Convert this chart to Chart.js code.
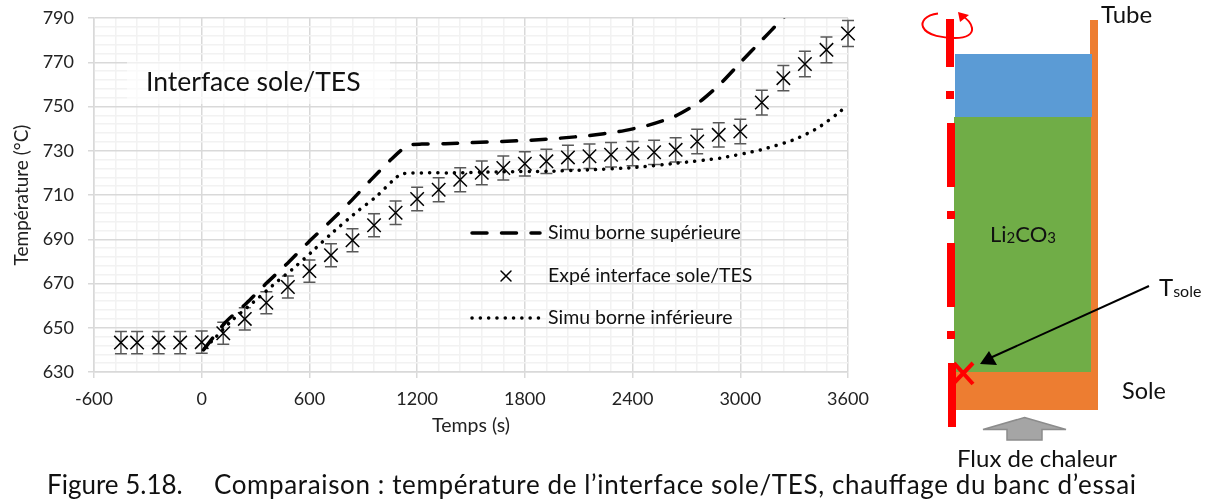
<!DOCTYPE html>
<html>
<head>
<meta charset="utf-8">
<title>Interface sole/TES</title>
<script src="https://cdn.jsdelivr.net/npm/chart.js@4"></script>
<style>
html, body { margin: 0; padding: 0; background: #fff; overflow: hidden; }
#chart { position: absolute; left: 0; top: 0; }
#schema { position: absolute; left: 0; top: 0; }
#schema text { font-family: Lato, sans-serif; fill: #111; }
</style>
</head>
<body>
<canvas id="chart" width="890" height="445"></canvas>
<svg id="schema" width="1213" height="504" viewBox="0 0 1213 504">
  <!-- schema du banc -->
  <rect x="1090" y="20" width="8" height="390" fill="#ed7d31"/>
  <rect x="954" y="371" width="144" height="39" fill="#ed7d31"/>
  <rect x="955" y="54" width="137" height="63" fill="#5b9bd5"/>
  <rect x="954" y="117" width="137" height="255" fill="#70ad47"/>
  <g fill="#ff0000">
    <rect x="946" y="19" width="8" height="48"/>
    <rect x="946" y="91" width="8" height="8"/>
    <rect x="947" y="123" width="8" height="64"/>
    <rect x="947" y="211" width="8" height="8"/>
    <rect x="947" y="243" width="8" height="64"/>
    <rect x="947" y="331" width="8" height="8"/>
    <rect x="948" y="363" width="8" height="64"/>
  </g>
  <path d="M938 13.5 C925 15 921 22 923 27 C927 36 944 38 955 38 C967 38 973 34 972 28 C971 22 966 18 961 15" fill="none" stroke="#ff0000" stroke-width="2"/>
  <polygon points="958,12 969,15 960,22" fill="#ff0000"/>
  <path d="M954 363 L973 384 M973 363 L953 384" stroke="#ff0000" stroke-width="4" fill="none"/>
  <line x1="1149" y1="286" x2="990" y2="358" stroke="#000" stroke-width="2"/>
  <polygon points="980,364 997,365 989,351" fill="#000"/>
  <polygon points="1024.5,417.5 1066,429.5 1042,429.5 1042,440 1007,440 1007,429.5 983,429.5" fill="#a5a5a5" stroke="#8c8c8c" stroke-width="1.5"/>
  <text x="1101" y="23" font-size="24">Tube</text>
  <text x="990" y="242" font-size="22">Li<tspan font-size="15" dy="1">2</tspan><tspan dy="-1">CO</tspan><tspan font-size="15" dy="1">3</tspan></text>
  <text x="1159" y="296" font-size="24">T<tspan font-size="16" dy="1">sole</tspan></text>
  <text x="1122" y="399" font-size="23.5">Sole</text>
  <text x="957" y="467" font-size="24">Flux de chaleur</text>
  <text x="47" y="494" font-size="26">Figure 5.18.</text>
  <text x="214" y="494" font-size="26" textLength="922">Comparaison : température de l’interface sole/TES, chauffage du banc d’essai</text>
</svg>
<script>
// temps (s) / temperature (°C)
const expeTemps = [-450, -360, -240, -120, 0, 120, 240, 360, 480, 600, 720, 840, 960, 1080, 1200, 1320, 1440, 1560, 1680, 1800, 1920, 2040, 2160, 2280, 2400, 2520, 2640, 2760, 2880, 3000, 3120, 3240, 3360, 3480, 3600];
const expeValeurs = [643.3, 643.3, 643.3, 643.3, 643.5, 647.5, 654, 661.3, 668.4, 675.6, 682.8, 689.5, 696.3, 702, 708.2, 712.4, 716.9, 720, 722.2, 724.1, 725.2, 727, 727.5, 728.2, 728.7, 729.3, 730.4, 734.2, 737.2, 738.7, 751.8, 762.8, 769.2, 775.6, 783];
const expeErreurs = [5, 5, 5, 5, 5, 5, 5, 5, 5, 5, 5.2, 5.2, 5.2, 5.3, 5.3, 5.4, 5.4, 5.4, 5.4, 5.5, 5.5, 5.5, 5.5, 5.5, 5.5, 5.5, 5.5, 5.5, 5.5, 5.5, 5.6, 5.7, 5.8, 5.8, 5.9];

const hautTemps = [10, 131, 252, 363, 484, 596, 716, 828, 940, 1054, 1146, 1226, 1357, 1514, 1674, 1836, 1998, 2160, 2320, 2478, 2634, 2773, 2896, 3006, 3118, 3225, 3250];
const hautValeurs = [640, 652.4, 661.3, 670.3, 679.6, 688.8, 698, 707, 716.6, 726, 732.4, 733, 733.2, 733.7, 734.2, 734.8, 735.7, 736.9, 738.6, 741.3, 745.5, 752.1, 760.8, 770.3, 779.8, 788.8, 791];

const basTemps = [20, 75, 168, 280, 428, 503, 609, 716, 861, 974, 1069, 1116, 1255, 1403, 1681, 1925, 2166, 2406, 2648, 2890, 3113, 3299, 3430, 3541, 3584];
const basValeurs = [641, 645.5, 653.3, 661, 671.4, 676.3, 684, 692.1, 702.2, 709.4, 716.9, 719.6, 720, 720, 720.5, 720.7, 721.4, 722.4, 724.4, 726.7, 730.4, 735, 740.2, 746.7, 749.7];

const xTickLabels = [-600, 0, 600, 1200, 1800, 2400, 3000, 3600];
const yTickLabels = [630, 650, 670, 690, 710, 730, 750, 770, 790];

const police = "Lato, sans-serif";
const couleurGrille = "#d9d9d9";
const couleurGrilleFine = "#f2f2f2";

function toPoints(xs, ys) {
    return xs.map((x, i) => ({ x: x, y: ys[i] }));
}

// barres d'erreur de la serie experimentale
const errorBars = {
    id: "errorBars",
    beforeDatasetsDraw(chart) {
        const { ctx, scales } = chart;
        ctx.save();
        ctx.strokeStyle = "#595959";
        ctx.lineWidth = 1.5;
        expeTemps.forEach((t, i) => {
            const px = scales.x.getPixelForValue(t);
            const hi = scales.y.getPixelForValue(expeValeurs[i] + expeErreurs[i]);
            const lo = scales.y.getPixelForValue(expeValeurs[i] - expeErreurs[i]);
            ctx.beginPath();
            ctx.moveTo(px, hi); ctx.lineTo(px, lo);
            ctx.moveTo(px - 6, hi); ctx.lineTo(px + 6, hi);
            ctx.moveTo(px - 6, lo); ctx.lineTo(px + 6, lo);
            ctx.stroke();
        });
        ctx.restore();
    }
};

// voile du titre + legende placee dans le trace
const encarts = {
    id: "encarts",
    beforeDatasetsDraw(chart) {
        const ctx = chart.ctx;
        ctx.save();
        ctx.fillStyle = "rgba(255,255,255,0.6)";
        ctx.fillRect(127, 61, 263, 43);
        ctx.restore();
    },
    afterDraw(chart) {
        const ctx = chart.ctx;
        ctx.save();
        ctx.fillStyle = "#111";
        ctx.textBaseline = "middle";
        ctx.font = "26.5px " + police;
        ctx.fillText("Interface sole/TES", 146, 82);
        ctx.font = "19.5px " + police;
        const lignes = [233, 276, 318];
        chart.data.datasets.forEach((ds, i) => {
            const y = lignes[i];
            ctx.fillStyle = "#111";
            ctx.fillText(ds.label, 548, y);
            if (ds.showLine) {
                ctx.strokeStyle = "#000";
                ctx.lineWidth = ds.borderWidth;
                ctx.lineCap = "round";
                ctx.setLineDash(ds.borderDash);
                ctx.beginPath();
                ctx.moveTo(472, y);
                ctx.lineTo(540, y);
                ctx.stroke();
                ctx.setLineDash([]);
            } else {
                ctx.strokeStyle = "#000";
                ctx.lineWidth = 1.5;
                ctx.beginPath();
                ctx.moveTo(501, y - 5); ctx.lineTo(511, y + 5);
                ctx.moveTo(511, y - 5); ctx.lineTo(501, y + 5);
                ctx.stroke();
            }
        });
        ctx.restore();
    }
};

new Chart(document.getElementById("chart"), {
    type: "scatter",
    plugins: [encarts, errorBars],
    data: {
        datasets: [
            {
                label: "Simu borne supérieure",
                data: toPoints(hautTemps, hautValeurs),
                showLine: true,
                borderColor: "#000",
                borderWidth: 3.5,
                borderDash: [15, 14.5],
                borderCapStyle: "round",
                pointRadius: 0,
                tension: 0.2
            },
            {
                label: "Expé interface sole/TES",
                data: toPoints(expeTemps, expeValeurs),
                showLine: false,
                clip: false,
                pointStyle: "crossRot",
                pointRadius: 9.5,
                pointBorderColor: "#000",
                pointBorderWidth: 1.5,
                borderColor: "#000",
                backgroundColor: "#000"
            },
            {
                label: "Simu borne inférieure",
                data: toPoints(basTemps, basValeurs),
                showLine: true,
                borderColor: "#000",
                borderWidth: 3.5,
                borderDash: [0.1, 8.2],
                borderCapStyle: "round",
                pointRadius: 0,
                tension: 0.2
            }
        ]
    },
    options: {
        responsive: false,
        animation: false,
        layout: { padding: { top: 18, right: 42, left: 0, bottom: 0 } },
        plugins: {
            legend: { display: false },
            tooltip: { enabled: false }
        },
        scales: {
            x: {
                type: "linear",
                min: -600,
                max: 3600,
                afterFit: s => { s.height = 73; s.paddingLeft = 0; s.paddingRight = 0; },
                border: { color: couleurGrille, width: 1.5 },
                grid: {
                    lineWidth: 1.5,
                    tickLength: 6,
                    color: c => xTickLabels.includes(c.tick.value) ? couleurGrille : couleurGrilleFine,
                    tickColor: c => xTickLabels.includes(c.tick.value) ? couleurGrille : "rgba(0,0,0,0)"
                },
                ticks: {
                    stepSize: 120,
                    autoSkip: false,
                    maxRotation: 0,
                    color: "#222",
                    font: { family: police, size: 18 },
                    padding: 10,
                    callback: v => xTickLabels.includes(v) ? String(v) : ""
                },
                title: {
                    display: true,
                    text: "Temps (s)",
                    color: "#222",
                    font: { family: police, size: 19.5 },
                    padding: { top: 0, bottom: 8 }
                }
            },
            y: {
                type: "linear",
                min: 630,
                max: 790,
                afterFit: s => { s.width = 94; s.paddingTop = 0; s.paddingBottom = 0; },
                border: { color: couleurGrille, width: 1.5 },
                grid: {
                    lineWidth: 1.5,
                    tickLength: 6,
                    color: c => yTickLabels.includes(c.tick.value) ? couleurGrille : couleurGrilleFine,
                    tickColor: c => yTickLabels.includes(c.tick.value) ? couleurGrille : "rgba(0,0,0,0)"
                },
                ticks: {
                    stepSize: 4,
                    autoSkip: false,
                    color: "#222",
                    font: { family: police, size: 18 },
                    padding: 14,
                    callback: v => yTickLabels.includes(v) ? String(v) : ""
                },
                title: {
                    display: true,
                    text: "Température (°C)",
                    color: "#222",
                    font: { family: police, size: 19 },
                    padding: { top: 10, bottom: 0 }
                }
            }
        }
    }
});
</script>
</body>
</html>
